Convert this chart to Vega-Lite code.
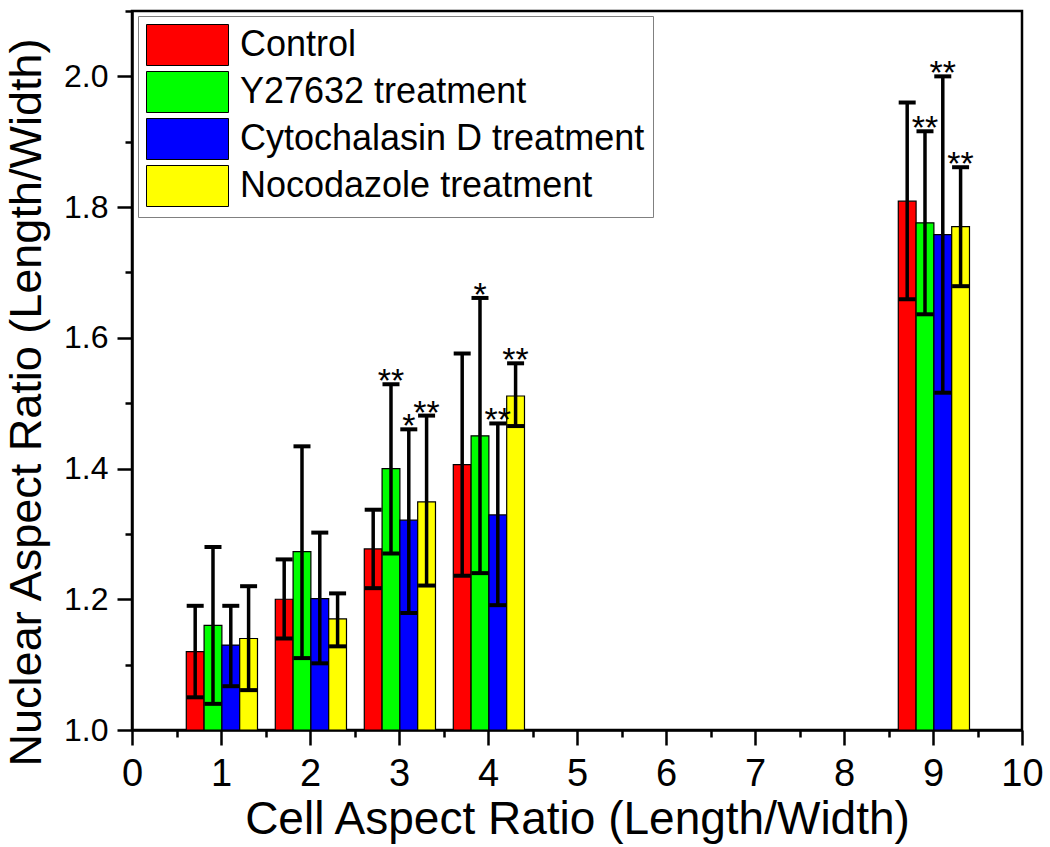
{
  "$schema": "https://vega.github.io/schema/vega-lite/v6.json",
  "width": 890,
  "height": 719,
  "autosize": {"type": "none"},
  "padding": {"left": 132, "top": 11, "right": 28, "bottom": 117},
  "background": "white",
  "config": {
    "font": "Liberation Sans",
    "view": {"stroke": "black", "strokeWidth": 2.5},
    "axis": {
      "domainColor": "black", "domainWidth": 2.5,
      "tickColor": "black", "tickWidth": 2.5,
      "grid": false,
      "labelFont": "Liberation Sans", "titleFont": "Liberation Sans",
      "labelColor": "black", "titleColor": "black",
      "titleFontWeight": "normal"
    }
  },
  "data": {
    "values": [
      {"ratio": 1, "series": "Control", "mean": 1.12, "lo": 1.05, "hi": 1.19, "sig": ""},
      {"ratio": 1, "series": "Y27632 treatment", "mean": 1.16, "lo": 1.04, "hi": 1.28, "sig": ""},
      {"ratio": 1, "series": "Cytochalasin D treatment", "mean": 1.13, "lo": 1.067, "hi": 1.19, "sig": ""},
      {"ratio": 1, "series": "Nocodazole treatment", "mean": 1.14, "lo": 1.061, "hi": 1.22, "sig": ""},
      {"ratio": 2, "series": "Control", "mean": 1.2, "lo": 1.14, "hi": 1.261, "sig": ""},
      {"ratio": 2, "series": "Y27632 treatment", "mean": 1.273, "lo": 1.11, "hi": 1.434, "sig": ""},
      {"ratio": 2, "series": "Cytochalasin D treatment", "mean": 1.201, "lo": 1.102, "hi": 1.302, "sig": ""},
      {"ratio": 2, "series": "Nocodazole treatment", "mean": 1.17, "lo": 1.128, "hi": 1.209, "sig": ""},
      {"ratio": 3, "series": "Control", "mean": 1.277, "lo": 1.217, "hi": 1.337, "sig": ""},
      {"ratio": 3, "series": "Y27632 treatment", "mean": 1.4, "lo": 1.27, "hi": 1.529, "sig": "**"},
      {"ratio": 3, "series": "Cytochalasin D treatment", "mean": 1.321, "lo": 1.179, "hi": 1.46, "sig": "*"},
      {"ratio": 3, "series": "Nocodazole treatment", "mean": 1.349, "lo": 1.221, "hi": 1.481, "sig": "**"},
      {"ratio": 4, "series": "Control", "mean": 1.406, "lo": 1.236, "hi": 1.576, "sig": ""},
      {"ratio": 4, "series": "Y27632 treatment", "mean": 1.45, "lo": 1.24, "hi": 1.661, "sig": "*"},
      {"ratio": 4, "series": "Cytochalasin D treatment", "mean": 1.329, "lo": 1.191, "hi": 1.469, "sig": "**"},
      {"ratio": 4, "series": "Nocodazole treatment", "mean": 1.511, "lo": 1.465, "hi": 1.561, "sig": "**"},
      {"ratio": 9, "series": "Control", "mean": 1.809, "lo": 1.659, "hi": 1.96, "sig": ""},
      {"ratio": 9, "series": "Y27632 treatment", "mean": 1.776, "lo": 1.636, "hi": 1.916, "sig": "**"},
      {"ratio": 9, "series": "Cytochalasin D treatment", "mean": 1.758, "lo": 1.516, "hi": 2.0, "sig": "**"},
      {"ratio": 9, "series": "Nocodazole treatment", "mean": 1.77, "lo": 1.679, "hi": 1.861, "sig": "**"}
    ]
  },
  "transform": [
    {"calculate": "datum.ratio + (datum.series === 'Control' ? -0.29 : datum.series === 'Y27632 treatment' ? -0.09 : datum.series === 'Cytochalasin D treatment' ? 0.11 : 0.31)", "as": "xc"},
    {"calculate": "datum.xc - 0.1", "as": "xs"},
    {"calculate": "datum.xc + 0.1", "as": "xe"}
  ],
  "resolve": {"axis": {"x": "independent", "y": "independent"}},
  "layer": [
    {
      "mark": {"type": "bar", "stroke": "black", "strokeWidth": 1.2},
      "encoding": {
        "x": {
          "field": "xs", "type": "quantitative",
          "scale": {"domain": [0, 10], "nice": false, "zero": false},
          "axis": {
            "orient": "bottom",
            "values": [0, 1, 2, 3, 4, 5, 6, 7, 8, 9, 10],
            "format": "d", "tickSize": 15, "labelFontSize": 38, "labelPadding": 10,
            "labelFlush": false, "labelOverlap": false,
            "title": "Cell Aspect Ratio (Length/Width)", "titleFontSize": 46, "titlePadding": 4
          }
        },
        "x2": {"field": "xe"},
        "y": {
          "field": "mean", "type": "quantitative",
          "scale": {"domain": [1, 2.1], "nice": false, "zero": false},
          "axis": {
            "orient": "left",
            "values": [1, 1.2, 1.4, 1.6, 1.8, 2.0],
            "format": ".1f", "tickSize": 15, "labelFontSize": 32, "labelPadding": 9,
            "labelFlush": false, "labelOverlap": false,
            "title": "Nuclear Aspect Ratio (Length/Width)", "titleFontSize": 45,
            "titlePadding": 14, "titleY": 391
          }
        },
        "y2": {"datum": 1},
        "color": {
          "field": "series", "type": "nominal",
          "scale": {
            "domain": ["Control", "Y27632 treatment", "Cytochalasin D treatment", "Nocodazole treatment"],
            "range": ["#FF0000", "#00FF00", "#0000FF", "#FFFF00"]
          },
          "legend": {
            "title": null, "orient": "none", "legendX": 6, "legendY": 5,
            "symbolType": "M-1,-1H3V1H-1Z", "symbolSize": 1681,
            "symbolStrokeColor": "black", "symbolStrokeWidth": 1,
            "labelFontSize": 36, "labelFont": "Liberation Sans", "labelColor": "black",
            "labelOffset": 52, "labelLimit": 700, "rowPadding": 1, "padding": 8,
            "strokeColor": "#808080", "fillColor": "white"
          }
        }
      }
    },
    {
      "mark": {"type": "rule", "strokeWidth": 3.5, "color": "black"},
      "encoding": {
        "x": {
          "field": "xc", "type": "quantitative",
          "axis": {
            "orient": "bottom",
            "values": [0.5, 1.5, 2.5, 3.5, 4.5, 5.5, 6.5, 7.5, 8.5, 9.5],
            "tickSize": 7, "labels": false, "domain": false, "title": null
          }
        },
        "y": {
          "field": "lo", "type": "quantitative",
          "axis": {
            "orient": "left",
            "values": [1.1, 1.3, 1.5, 1.7, 1.9, 2.1],
            "tickSize": 7, "labels": false, "domain": false, "title": null
          }
        },
        "y2": {"field": "hi"}
      }
    },
    {
      "mark": {"type": "tick", "orient": "horizontal", "size": 17, "thickness": 4, "color": "black", "opacity": 1},
      "encoding": {
        "x": {"field": "xc", "type": "quantitative", "axis": null},
        "y": {"field": "hi", "type": "quantitative", "axis": null}
      }
    },
    {
      "mark": {"type": "tick", "orient": "horizontal", "size": 17, "thickness": 4, "color": "black", "opacity": 1},
      "encoding": {
        "x": {"field": "xc", "type": "quantitative", "axis": null},
        "y": {"field": "lo", "type": "quantitative", "axis": null}
      }
    },
    {
      "mark": {"type": "text", "fontSize": 34, "font": "Liberation Sans", "baseline": "alphabetic", "dy": 8, "color": "black"},
      "encoding": {
        "x": {"field": "xc", "type": "quantitative", "axis": null},
        "y": {"field": "hi", "type": "quantitative", "axis": null},
        "text": {"field": "sig"}
      }
    }
  ]
}
